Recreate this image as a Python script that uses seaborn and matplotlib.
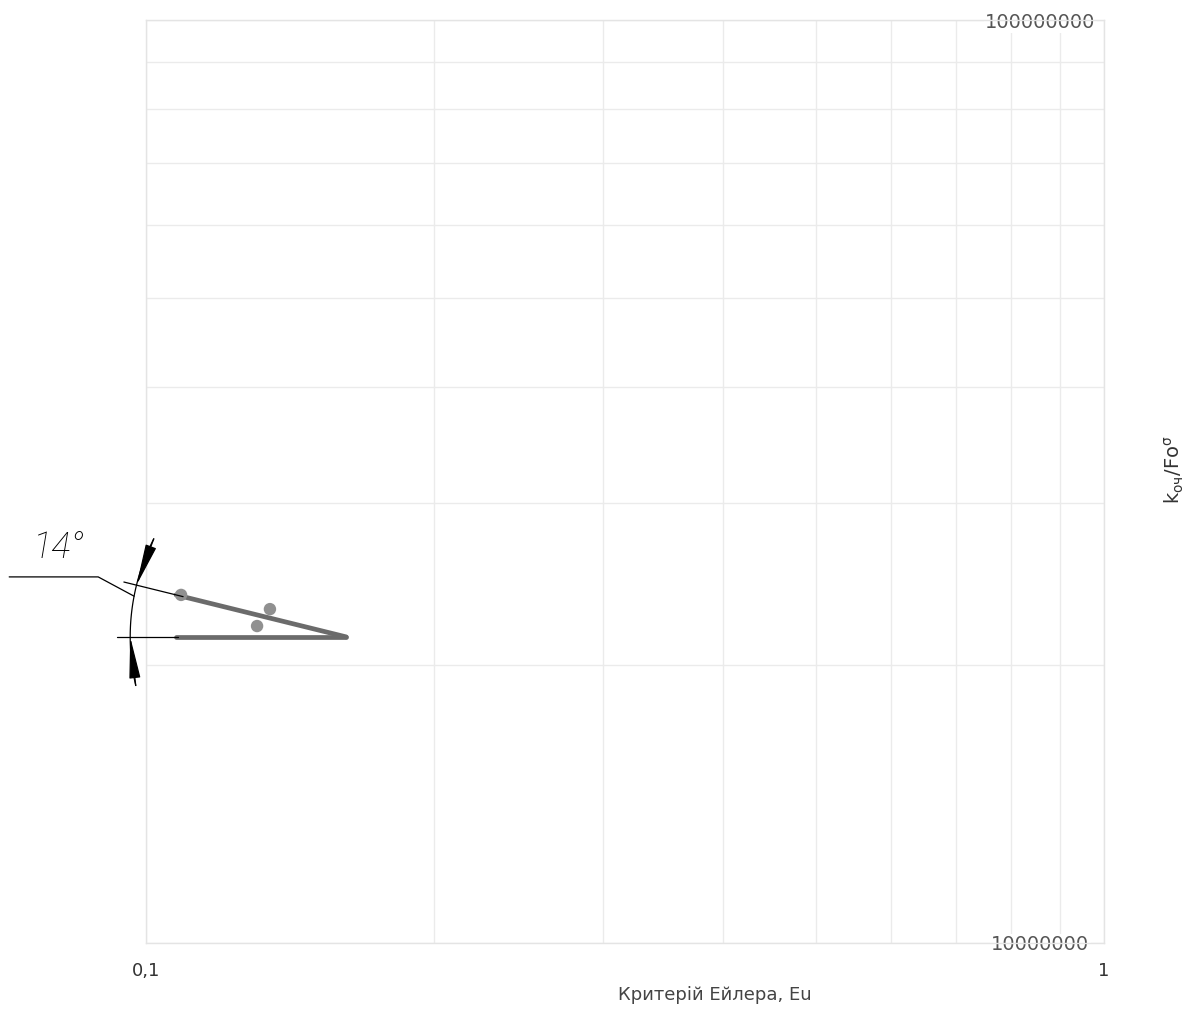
import numpy as np
import pandas as pd
import matplotlib
matplotlib.use("Agg")
import matplotlib.pyplot as plt
import seaborn as sns
from matplotlib.ticker import FixedLocator, LogLocator, NullFormatter
from matplotlib.transforms import IdentityTransform
from matplotlib.lines import Line2D

# data
eu_points = [0.1088, 0.1347, 0.1306]
k_points = [2.383e7, 2.300e7, 2.205e7]
trend_eu = [0.1075, 0.1618]
trend_k = [2.383e7, 2.146e7]
base_eu = [0.1075, 0.1618]
base_k = [2.146e7, 2.146e7]
x_ticks = [0.1, 1]
x_tick_labels = ["0,1", "1"]
y_ticks = [1e7, 1e8]
y_tick_labels = ["10000000", "100000000"]
angle_label = "14°"

sns.set_theme(style="white")
plt.rcParams['font.family'] = ['DejaVu Sans']

W, H = 1186, 1010
fig = plt.figure(figsize=(W / 100, H / 100), dpi=100)
ax = fig.add_axes([146 / W, 1 - 943 / H, 958 / W, 923 / H])
ax.set_xscale("log")
ax.set_yscale("log")
ax.set_xlim(0.1, 1)
ax.set_ylim(1e7, 1e8)

pts = pd.DataFrame({"Eu": eu_points, "K": k_points})
trend = pd.DataFrame({"Eu": trend_eu, "K": trend_k})
base = pd.DataFrame({"Eu": base_eu, "K": base_k})

sns.lineplot(data=trend, x="Eu", y="K", ax=ax, color="#6b6b6b", lw=3.4,
             estimator=None, sort=False, zorder=3)
sns.lineplot(data=base, x="Eu", y="K", ax=ax, color="#6b6b6b", lw=3.4,
             estimator=None, sort=False, zorder=3)
sns.scatterplot(data=pts, x="Eu", y="K", ax=ax, color="#909090", s=80,
                edgecolor="none", zorder=4)

# grid / ticks
ax.xaxis.set_major_locator(FixedLocator(x_ticks))
ax.xaxis.set_minor_locator(LogLocator(base=10, subs=np.arange(2, 10)))
ax.xaxis.set_minor_formatter(NullFormatter())
ax.set_xticklabels(x_tick_labels, fontsize=13, color="#333333")
ax.yaxis.set_major_locator(FixedLocator(y_ticks))
ax.yaxis.set_minor_locator(LogLocator(base=10, subs=np.arange(2, 10)))
ax.yaxis.set_minor_formatter(NullFormatter())
ax.yaxis.tick_right()
ax.set_yticklabels(y_tick_labels, fontsize=14, color="#555555")
for lbl in ax.get_yticklabels():
    lbl.set_ha("center")
    lbl.set_bbox(dict(facecolor="white", edgecolor="none", pad=1))
    lbl.set_zorder(5)
ax.tick_params(axis="both", which="both", length=0)
ax.tick_params(axis="x", pad=14)
ax.tick_params(axis="y", pad=-46, labelright=True, labelleft=False)
ax.grid(True, which="both", color="#ebebeb", lw=1)
for s in ax.spines.values():
    s.set_visible(True)
    s.set_color("#e4e4e4")
    s.set_linewidth(1)

ax.set_xlabel("Критерій Ейлера, Eu", fontsize=13, color="#444444")
ax.xaxis.set_label_coords((715 - 146) / 958, (943 - 986) / 923)
ax.set_ylabel(r"$\mathregular{k_{оч}/Fo^{σ}}$", fontsize=14, color="#333333")
ax.yaxis.set_label_position("right")
ax.yaxis.set_label_coords((1163 - 146) / 958, (943 - 470) / 923)

# angle dimension drawn around the vertex of the two lines
vx, vy = ax.transData.transform((trend_eu[1], trend_k[1]))
sx, sy = ax.transData.transform((trend_eu[0], trend_k[0]))
th_top = np.arctan2(sy - vy, sx - vx)
th_base = np.pi
R = 216

def pol(r, th):
    return vx + r * np.cos(th), vy + r * np.sin(th)

kw = dict(color="black", lw=0.9, transform=IdentityTransform(), clip_on=False)
ths = np.radians(np.linspace(153, 193, 60))
fig.add_artist(Line2D(vx + R * np.cos(ths), vy + R * np.sin(ths), **kw))
for th in (th_top, th_base):
    a, b = pol(168, th), pol(229, th)
    fig.add_artist(Line2D([a[0], b[0]], [a[1], b[1]], **kw))
lead = pol(R, th_top + np.radians(3))
fig.add_artist(Line2D([lead[0], vx - 248, vx - 337],
                      [lead[1], vy + 60, vy + 60], **kw))

arrow = dict(arrowstyle="-|>,head_length=2.6,head_width=0.35", color="black",
             lw=0.9, shrinkA=0, shrinkB=0, mutation_scale=10)
ax.annotate("", xy=pol(R, th_top), xytext=pol(R, np.radians(153)),
            xycoords="figure pixels", textcoords="figure pixels",
            arrowprops=arrow, annotation_clip=False)
ax.annotate("", xy=pol(R, th_base), xytext=pol(R, np.radians(193)),
            xycoords="figure pixels", textcoords="figure pixels",
            arrowprops=arrow, annotation_clip=False)

fig.text(33 / W, 1 - 558 / H, angle_label, fontsize=26, family="Roboto",
         style="italic", weight="light", color="black", ha="left", va="baseline")

fig.savefig("out.png", dpi=100)
